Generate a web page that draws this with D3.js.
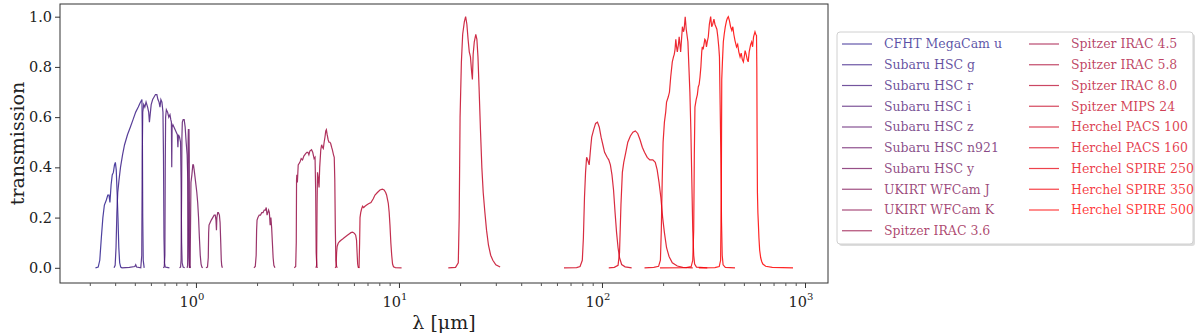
<!DOCTYPE html>
<html>
<head>
<meta charset="utf-8">
<script src="https://cdn.jsdelivr.net/npm/d3@7"></script>
<style>
  body { margin: 0; background: #fff; }
  svg text { font-family: "DejaVu Serif", "Liberation Serif", serif; }
</style>
</head>
<body>
<svg id="chart" width="1200" height="335"></svg>
<script>
// filter names, in plotting order
var filterNames = [
    'CFHT MegaCam u', 'Subaru HSC g', 'Subaru HSC r', 'Subaru HSC i', 'Subaru HSC z',
    'Subaru HSC n921', 'Subaru HSC y', 'UKIRT WFCam J', 'UKIRT WFCam K', 'Spitzer IRAC 3.6',
    'Spitzer IRAC 4.5', 'Spitzer IRAC 5.8', 'Spitzer IRAC 8.0', 'Spitzer MIPS 24',
    'Herchel PACS 100', 'Herchel PACS 160', 'Herchel SPIRE 250', 'Herchel SPIRE 350', 'Herchel SPIRE 500'
]

// transmission curves: [wavelength in micron, transmission]
var cfhtU = [[0.320,0],[0.330,0.003],[0.336,0.03],[0.342,0.12],[0.348,0.20],[0.354,0.25],[0.362,0.27],[0.368,0.29],[0.373,0.29],[0.377,0.26],[0.382,0.33],[0.387,0.37],[0.392,0.38],[0.397,0.41],[0.401,0.42],[0.405,0.39],[0.409,0.30],[0.413,0.20],[0.417,0.08],[0.421,0.02],[0.426,0.003],[0.432,0]]
var hscG = [[0.395,0],[0.400,0.01],[0.404,0.08],[0.408,0.22],[0.412,0.30],[0.418,0.35],[0.425,0.40],[0.435,0.45],[0.445,0.49],[0.46,0.53],[0.475,0.56],[0.49,0.59],[0.505,0.62],[0.52,0.64],[0.53,0.655],[0.538,0.665],[0.542,0.67],[0.545,0.5],[0.547,0.2],[0.550,0.03],[0.556,0]]
var hscR = [[0.43,0],[0.47,0.002],[0.50,0.005],[0.505,0.012],[0.51,0.003],[0.535,0],[0.541,0.05],[0.544,0.45],[0.547,0.62],[0.553,0.65],[0.56,0.64],[0.568,0.66],[0.578,0.64],[0.585,0.62],[0.59,0.58],[0.595,0.61],[0.602,0.65],[0.612,0.67],[0.622,0.68],[0.632,0.69],[0.642,0.69],[0.650,0.67],[0.658,0.66],[0.665,0.64],[0.672,0.67],[0.680,0.66],[0.688,0.62],[0.692,0.45],[0.696,0.12],[0.70,0.02],[0.706,0.003],[0.72,0.002],[0.74,0]]
var hscI = [[0.69,0],[0.698,0.003],[0.703,0.05],[0.706,0.40],[0.709,0.60],[0.715,0.63],[0.725,0.62],[0.735,0.60],[0.745,0.61],[0.752,0.59],[0.757,0.58],[0.760,0.40],[0.763,0.56],[0.770,0.57],[0.78,0.56],[0.79,0.55],[0.80,0.54],[0.81,0.53],[0.815,0.48],[0.82,0.53],[0.83,0.52],[0.84,0.50],[0.845,0.35],[0.85,0.10],[0.855,0.02],[0.865,0.003],[0.88,0]]
var hscZ = [[0.83,0],[0.84,0.003],[0.845,0.03],[0.85,0.30],[0.853,0.52],[0.857,0.58],[0.865,0.59],[0.875,0.59],[0.885,0.56],[0.895,0.50],[0.905,0.45],[0.912,0.35],[0.918,0.15],[0.922,0.04],[0.928,0.005],[0.94,0]]
var hscN921 = [[0.905,0],[0.910,0.01],[0.913,0.2],[0.915,0.5],[0.918,0.55],[0.924,0.55],[0.927,0.45],[0.929,0.15],[0.932,0.01],[0.937,0]]
var hscY = [[0.925,0],[0.935,0.005],[0.94,0.15],[0.945,0.34],[0.955,0.37],[0.965,0.41],[0.972,0.41],[0.98,0.39],[0.99,0.36],[1.0,0.33],[1.01,0.30],[1.02,0.26],[1.03,0.20],[1.04,0.12],[1.05,0.05],[1.06,0.015],[1.07,0.003],[1.08,0]]
var ukirtJ = [[1.12,0],[1.14,0.003],[1.15,0.04],[1.155,0.14],[1.16,0.17],[1.175,0.18],[1.19,0.19],[1.21,0.20],[1.23,0.21],[1.245,0.21],[1.255,0.19],[1.262,0.15],[1.268,0.20],[1.28,0.22],[1.29,0.22],[1.305,0.21],[1.315,0.18],[1.325,0.10],[1.333,0.03],[1.34,0.008],[1.35,0]]
var ukirtK = [[1.93,0],[1.96,0.005],[1.98,0.05],[1.99,0.15],[2.00,0.19],[2.02,0.20],[2.05,0.21],[2.08,0.21],[2.11,0.22],[2.14,0.22],[2.17,0.23],[2.20,0.23],[2.22,0.24],[2.24,0.21],[2.26,0.22],[2.28,0.23],[2.30,0.22],[2.32,0.17],[2.34,0.20],[2.36,0.16],[2.38,0.10],[2.40,0.04],[2.42,0.01],[2.45,0]]
var irac36 = [[3.05,0],[3.10,0.005],[3.12,0.10],[3.13,0.35],[3.14,0.37],[3.16,0.34],[3.19,0.41],[3.25,0.42],[3.30,0.435],[3.35,0.43],[3.40,0.445],[3.47,0.455],[3.52,0.46],[3.56,0.46],[3.60,0.45],[3.64,0.465],[3.71,0.47],[3.76,0.46],[3.82,0.435],[3.86,0.44],[3.89,0.30],[3.91,0.06],[3.94,0.005],[3.97,0]]
var irac45 = [[3.90,0],[3.93,0.01],[3.95,0.25],[3.97,0.38],[4.00,0.36],[4.04,0.32],[4.07,0.40],[4.12,0.47],[4.16,0.49],[4.20,0.48],[4.24,0.475],[4.28,0.50],[4.32,0.52],[4.36,0.545],[4.39,0.55],[4.43,0.53],[4.48,0.51],[4.52,0.50],[4.57,0.50],[4.61,0.495],[4.66,0.48],[4.70,0.47],[4.76,0.45],[4.80,0.44],[4.83,0.35],[4.86,0.15],[4.89,0.03],[4.93,0.005],[4.97,0]]
var irac58 = [[4.85,0],[4.90,0.005],[4.93,0.06],[4.96,0.085],[5.02,0.098],[5.10,0.105],[5.18,0.11],[5.28,0.115],[5.37,0.12],[5.47,0.125],[5.57,0.13],[5.68,0.135],[5.80,0.14],[5.90,0.142],[5.98,0.14],[6.06,0.135],[6.12,0.13],[6.18,0.11],[6.22,0.06],[6.26,0.015],[6.30,0.003],[6.40,0]]
var irac80 = [[6.30,0],[6.36,0.005],[6.40,0.10],[6.43,0.20],[6.48,0.22],[6.55,0.235],[6.62,0.245],[6.70,0.24],[6.80,0.245],[6.93,0.25],[7.08,0.255],[7.28,0.26],[7.47,0.275],[7.62,0.29],[7.83,0.30],[8.06,0.31],[8.28,0.313],[8.45,0.31],[8.60,0.30],[8.69,0.29],[8.86,0.257],[8.95,0.22],[9.03,0.17],[9.12,0.10],[9.21,0.05],[9.30,0.015],[9.40,0.004],[9.60,0.001],[10.3,0]]
var mips24 = [[17.5,0],[19.0,0.002],[19.6,0.02],[19.8,0.2],[20.0,0.6],[20.3,0.82],[20.6,0.93],[21.0,0.98],[21.3,1.0],[21.6,0.97],[21.9,0.91],[22.2,0.86],[22.5,0.84],[22.8,0.78],[23.0,0.75],[23.2,0.85],[23.5,0.90],[23.9,0.93],[24.2,0.91],[24.5,0.84],[24.8,0.72],[25.2,0.55],[25.6,0.40],[26.0,0.30],[26.5,0.22],[27.0,0.15],[27.6,0.09],[28.3,0.05],[29.0,0.03],[30,0.012],[31.5,0.003]]
var pacs100 = [[65,0],[75,0.001],[78,0.005],[80,0.03],[81,0.12],[82,0.28],[83,0.38],[84,0.44],[85,0.43],[86.5,0.41],[88,0.48],[89,0.52],[91,0.55],[93,0.575],[95,0.58],[97,0.56],[99,0.52],[101,0.49],[103,0.46],[106,0.44],[108,0.43],[110,0.41],[112,0.37],[114,0.31],[116,0.22],[118,0.14],[120,0.08],[122,0.04],[125,0.013],[130,0.004],[140,0]]
var pacs160 = [[108,0],[115,0.002],[120,0.01],[122,0.06],[124,0.25],[126,0.38],[128,0.42],[131,0.46],[134,0.50],[138,0.525],[142,0.54],[146,0.545],[150,0.535],[154,0.51],[158,0.48],[162,0.46],[167,0.44],[172,0.43],[178,0.43],[183,0.42],[187,0.39],[191,0.34],[195,0.28],[199,0.20],[203,0.14],[208,0.08],[214,0.045],[222,0.02],[235,0.007],[250,0.002],[280,0]]
var spire250 = [[162,0],[180,0.002],[190,0.006],[194,0.03],[196,0.15],[198,0.35],[200,0.50],[203,0.58],[206,0.62],[208,0.66],[212,0.68],[215,0.70],[218,0.76],[222,0.82],[225,0.84],[227,0.85],[229,0.87],[231,0.91],[233,0.88],[235,0.86],[238,0.89],[240,0.92],[242,0.89],[244,0.86],[247,0.92],[249,0.96],[252,0.94],[254,0.95],[257,1.0],[260,0.95],[262,0.93],[265,0.90],[268,0.80],[271,0.70],[274,0.55],[277,0.35],[280,0.15],[283,0.05],[286,0.015],[292,0.003],[330,0]]
var spire350 = [[193,0],[260,0.001],[275,0.005],[280,0.03],[283,0.15],[285,0.45],[287,0.64],[291,0.67],[295,0.69],[298,0.72],[301,0.73],[304,0.76],[307,0.80],[310,0.86],[312,0.88],[315,0.87],[318,0.89],[321,0.91],[324,0.905],[327,0.88],[330,0.90],[334,0.92],[338,0.97],[343,1.0],[347,0.96],[351,0.97],[356,0.99],[360,0.97],[364,0.96],[368,0.95],[372,0.92],[376,0.88],[379,0.84],[382,0.65],[385,0.45],[388,0.18],[391,0.05],[395,0.012],[405,0.002],[452,0]]
var spire500 = [[300,0],[360,0.001],[378,0.005],[384,0.03],[387,0.3],[389,0.75],[392,0.82],[396,0.90],[400,0.93],[405,0.96],[411,0.985],[415,0.995],[419,1.0],[424,0.985],[430,0.96],[436,0.945],[441,0.96],[446,0.93],[452,0.905],[460,0.88],[466,0.89],[472,0.86],[479,0.84],[485,0.855],[491,0.83],[497,0.82],[502,0.84],[507,0.865],[513,0.85],[519,0.83],[525,0.82],[531,0.86],[540,0.89],[546,0.90],[552,0.88],[558,0.92],[567,0.94],[572,0.93],[577,0.925],[579,0.8],[581,0.5],[583,0.3],[586,0.22],[589,0.18],[593,0.12],[598,0.07],[605,0.04],[612,0.025],[620,0.015],[640,0.006],[690,0.002],[873,0]]

var curves = [cfhtU, hscG, hscR, hscI, hscZ, hscN921, hscY, ukirtJ, ukirtK, irac36,
    irac45, irac58, irac80, mips24, pacs100, pacs160, spire250, spire350, spire500]

var yTicks = [0.0, 0.2, 0.4, 0.6, 0.8, 1.0]
var xMajor = [1, 10, 100, 1000]

var svg = d3.select('#chart'),
    margin = { top: 4, left: 60, bottom: 52, right: 372 },
    width = +svg.attr('width'),
    height = +svg.attr('height')

var x = d3.scaleLog()
    .domain([0.214, 1298])
    .range([margin.left, width - margin.right])

var y = d3.scaleLinear()
    .domain([-0.0605, 1.0505])
    .range([height - margin.bottom, margin.top])

var color = function (i) {
    return d3.interpolateRgb('#2e1e8e', '#ff0000')(i / (curves.length - 1))
}

var line = d3.line()
    .x(d => x(d[0]))
    .y(d => y(d[1]))

svg.append('g')
    .selectAll('path')
    .data(curves)
    .enter().append('path')
    .attr('d', line)
    .attr('fill', 'none')
    .attr('stroke', (d, i) => color(i))
    .attr('stroke-opacity', 0.85)
    .attr('stroke-width', 1.2)

// frame
svg.append('rect')
    .attr('x', margin.left)
    .attr('y', margin.top)
    .attr('width', width - margin.right - margin.left)
    .attr('height', height - margin.bottom - margin.top)
    .attr('fill', 'none')
    .attr('stroke', '#333')
    .attr('stroke-width', 1)

// y axis
var yAxis = svg.append('g')
    .attr('transform', `translate(${margin.left},0)`)
    .call(d3.axisLeft(y).tickValues(yTicks).tickSize(5).tickPadding(3).tickFormat(d3.format('.1f')))
yAxis.select('.domain').remove()
yAxis.selectAll('line').attr('stroke', '#333')
yAxis.selectAll('text')
    .attr('font-family', '"DejaVu Serif", serif')
    .attr('font-size', 14.5)
    .attr('fill', '#222')

// x axis, minor ticks first
var minor = []
for (var e = -1; e <= 3; e++) {
    for (var m = 2; m <= 9; m++) {
        var v = m * Math.pow(10, e)
        if (v > x.domain()[0] && v < x.domain()[1]) minor.push(v)
    }
}
var xAxisMinor = svg.append('g')
    .attr('transform', `translate(0,${height - margin.bottom})`)
    .call(d3.axisBottom(x).tickValues(minor).tickSize(3).tickFormat(''))
xAxisMinor.select('.domain').remove()
xAxisMinor.selectAll('line').attr('stroke', '#555')

var xAxis = svg.append('g')
    .attr('transform', `translate(0,${height - margin.bottom})`)
    .call(d3.axisBottom(x).tickValues(xMajor).tickSize(5).tickFormat(''))
xAxis.select('.domain').remove()
xAxis.selectAll('line').attr('stroke', '#333')

var xLabels = svg.append('g')
    .selectAll('text')
    .data(xMajor)
    .enter().append('text')
    .attr('x', d => x(d) - 4)
    .attr('y', height - margin.bottom + 24)
    .attr('text-anchor', 'middle')
    .attr('fill', '#222')
    .attr('font-size', 14.5)
xLabels.append('tspan').text('10')
xLabels.append('tspan')
    .attr('dy', -7)
    .attr('font-size', 10)
    .text(d => Math.round(Math.log10(d)))

// axis titles
svg.append('text')
    .attr('x', (margin.left + width - margin.right) / 2)
    .attr('y', height - 6)
    .attr('text-anchor', 'middle')
    .attr('font-size', 19)
    .attr('fill', '#222')
    .text('λ [μm]')

svg.append('text')
    .attr('transform', `translate(24,${(margin.top + height - margin.bottom) / 2}) rotate(-90)`)
    .attr('text-anchor', 'middle')
    .attr('font-size', 19)
    .attr('fill', '#222')
    .text('transmission')

// legend
var legend = svg.append('g')
var lx = 837, ly = 32, lw = 356, lh = 212
legend.append('rect')
    .attr('x', lx + 2).attr('y', ly + 2)
    .attr('width', lw).attr('height', lh)
    .attr('rx', 3)
    .attr('fill', '#bbb')
    .attr('opacity', 0.5)
legend.append('rect')
    .attr('x', lx).attr('y', ly)
    .attr('width', lw).attr('height', lh)
    .attr('rx', 3)
    .attr('fill', '#fff')
    .attr('stroke', '#d0d0d0')

var rowH = 20.75
var items = legend.selectAll('g.item')
    .data(filterNames)
    .enter().append('g')
    .attr('class', 'item')
    .attr('transform', function (d, i) {
        var col = i < 10 ? 0 : 1
        var row = i < 10 ? i : i - 10
        return `translate(${col == 0 ? 842 : 1029},${44 + row * rowH})`
    })
items.append('line')
    .attr('x1', 0).attr('x2', 30)
    .attr('stroke', (d, i) => color(i))
    .attr('stroke-opacity', 0.75)
    .attr('stroke-width', 1.2)
items.append('text')
    .attr('x', 42)
    .attr('dy', '0.35em')
    .attr('font-size', 12.5)
    .attr('fill', (d, i) => color(i))
    .attr('fill-opacity', 0.78)
    .text(d => d)
</script>
</body>
</html>
